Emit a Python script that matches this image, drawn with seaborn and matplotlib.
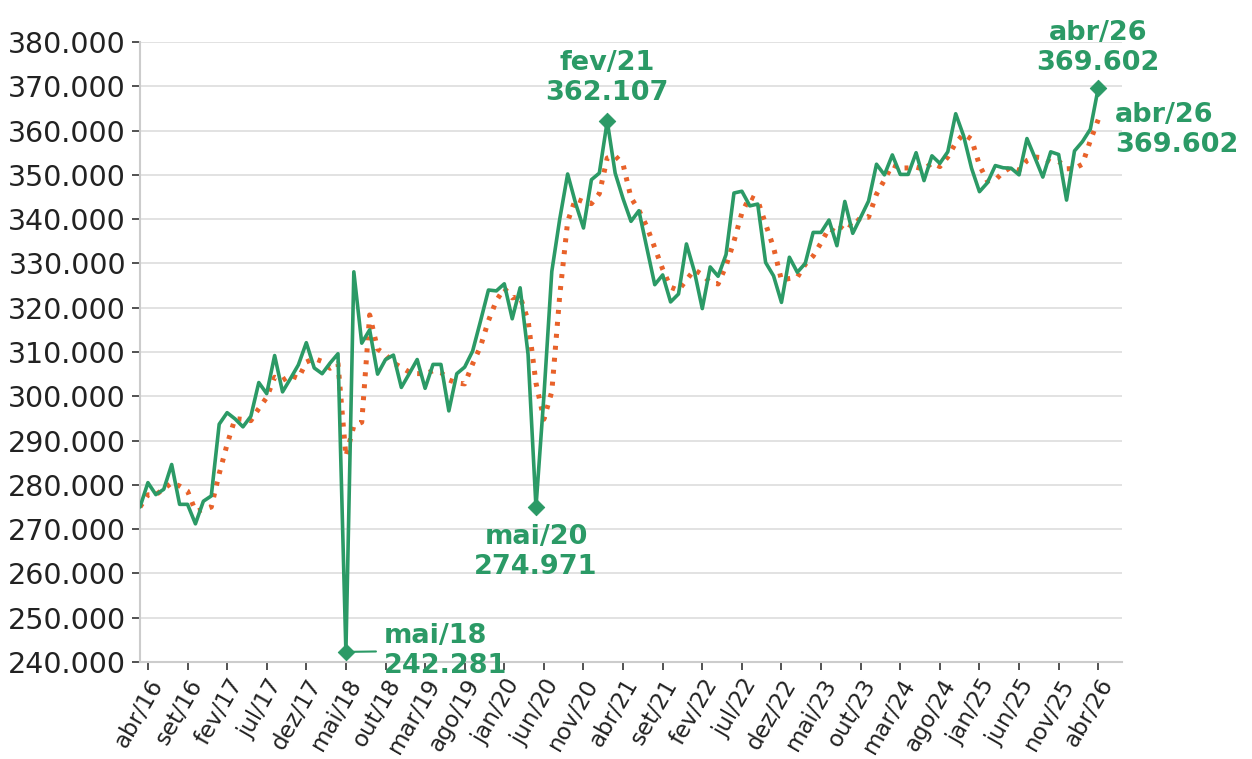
import matplotlib
matplotlib.use("Agg")
import matplotlib.pyplot as plt
import seaborn as sns
import pandas as pd

# ---- data (values in thousands) ----
month_names = ["jan", "fev", "mar", "abr", "mai", "jun", "jul", "ago", "set", "out", "nov", "dez"]
start_year = 2016
start_month = 3  # mar/16

values = [
    275.0, 280.5, 277.8, 279.0, 284.6, 275.6, 275.6, 271.2, 276.3, 277.5,
    293.7, 296.3, 294.9, 293.1, 295.5, 303.1, 300.6, 309.2, 301.0, 304.0,
    307.1, 312.1, 306.4, 305.1, 307.5, 309.6, 242.281, 328.1, 312.0, 315.0,
    305.0, 308.3, 309.3, 302.0, 305.1, 308.3, 301.8, 307.2, 307.2, 296.7,
    305.1, 306.6, 310.2, 317.0, 324.0, 323.8, 325.4, 317.5, 324.5, 309.5,
    274.971, 300.0, 328.2, 340.0, 350.2, 343.6, 338.0, 348.9, 350.4, 362.107,
    350.4, 344.6, 339.5, 341.9, 333.5, 325.2, 327.4, 321.3, 323.1, 334.4,
    328.2, 319.8, 329.2, 327.1, 332.0, 345.9, 346.3, 343.0, 343.4, 330.2,
    327.2, 321.2, 331.4, 328.0, 330.0, 337.0, 337.0, 339.8, 334.0, 344.0,
    336.8, 340.4, 344.1, 352.4, 350.0, 354.5, 350.1, 350.1, 355.0, 348.7,
    354.3, 352.6, 355.2, 363.8, 358.8, 351.5, 346.2, 348.2, 352.1, 351.6,
    351.5, 350.0, 358.2, 353.9, 349.5, 355.2, 354.6, 344.3, 355.4, 357.5,
    360.3, 369.602,
]

tick_labels = ["abr/16", "set/16", "fev/17", "jul/17", "dez/17", "mai/18", "out/18",
               "mar/19", "ago/19", "jan/20", "jun/20", "nov/20", "abr/21", "set/21",
               "fev/22", "jul/22", "dez/22", "mai/23", "out/23", "mar/24", "ago/24",
               "jan/25", "jun/25", "nov/25", "abr/26"]

highlight_labels = ["mai/18", "mai/20", "fev/21", "abr/26"]

# ---- build frame ----
periods = []
for k in range(len(values)):
    m = (start_month - 1 + k) % 12
    y = start_year + (start_month - 1 + k) // 12
    periods.append(f"{month_names[m]}/{y % 100:02d}")

df = pd.DataFrame({"idx": range(len(values)), "periodo": periods, "valor": values})
df["media"] = df["valor"].rolling(3, min_periods=1).mean()

green = "#2b9a66"
orange = "#e8622a"

sns.set_style("white")
plt.rcParams["font.family"] = ["DejaVu Sans"]

fig = plt.figure(figsize=(12.52, 7.59), dpi=100)
ax = fig.add_axes([140 / 1252, 1 - 662 / 759, (1122 - 140) / 1252, (662 - 42) / 759])

sns.lineplot(data=df, x="idx", y="media", ax=ax, color=orange, linewidth=3.6,
             linestyle=(0, (0.8, 1.6)), zorder=3)
sns.lineplot(data=df, x="idx", y="valor", ax=ax, color=green, linewidth=2.6, zorder=4)

pos = {p: i for i, p in enumerate(periods)}
hl = df[df["periodo"].isin(highlight_labels)]
sns.scatterplot(data=hl, x="idx", y="valor", ax=ax, color=green, marker="D", s=70,
                edgecolor=green, zorder=5)

ax.set_xlim(0, 124)
ax.set_ylim(240, 380)
ax.set_yticks(range(240, 381, 10))
ax.set_yticklabels([f"{v:.3f}" for v in range(240, 381, 10)], fontsize=20.5, color="#222222")
ax.set_xticks([pos[t] for t in tick_labels])
ax.set_xticklabels(tick_labels, rotation=60, ha="right", rotation_mode="anchor",
                   fontsize=16.5, color="#222222")
ax.tick_params(axis="both", which="both", length=6, width=1.2, color="#333333",
               left=True, bottom=True)
ax.tick_params(axis="y", pad=4)
ax.tick_params(axis="x", pad=3)
ax.set_xlabel("")
ax.set_ylabel("")
ax.grid(axis="y", color="#dddddd", linewidth=1.2)
ax.grid(axis="x", visible=False)
for s in ["top", "right"]:
    ax.spines[s].set_visible(False)
for s in ["left", "bottom"]:
    ax.spines[s].set_color("#cccccc")
    ax.spines[s].set_linewidth(1.5)

fs = 19.5
def txt(p):
    v = values[pos[p]]
    return f"{p}\n{v:.3f}"

kw = dict(textcoords="offset points", color=green, fontsize=fs, fontweight="bold",
          linespacing=1.2, zorder=6)
# mai/18 (to the right, with connector)
ax.annotate(txt("mai/18"), xy=(pos["mai/18"], values[pos["mai/18"]]), xytext=(27, 1),
            ha="left", va="center",
            arrowprops=dict(arrowstyle="-", color=green, lw=1.5, shrinkA=3, shrinkB=0), **kw)
# mai/20 (below)
ax.annotate(txt("mai/20"), xy=(pos["mai/20"], values[pos["mai/20"]]), xytext=(0, -12),
            ha="center", va="top", **kw)
# fev/21 (above)
ax.annotate(txt("fev/21"), xy=(pos["fev/21"], values[pos["fev/21"]]), xytext=(0, 11),
            ha="center", va="bottom", **kw)
# abr/26 (above)
ax.annotate(txt("abr/26"), xy=(pos["abr/26"], values[pos["abr/26"]]), xytext=(0, 9),
            ha="center", va="bottom", annotation_clip=False, **kw)
# abr/26 (right)
ax.annotate(txt("abr/26"), xy=(pos["abr/26"], values[pos["abr/26"]]), xytext=(12, -30),
            ha="left", va="center", annotation_clip=False, **kw)

fig.savefig("out.png", dpi=100)
